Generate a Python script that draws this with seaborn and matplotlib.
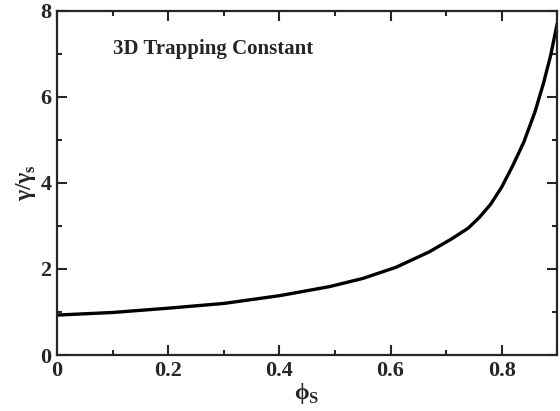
import matplotlib
matplotlib.use("Agg")
import matplotlib.pyplot as plt
import seaborn as sns
import pandas as pd
from matplotlib.ticker import MultipleLocator

# values
phi_s = [0.0, 0.1, 0.2, 0.3, 0.4, 0.49, 0.55, 0.61, 0.67, 0.71, 0.74,
         0.76, 0.78, 0.80, 0.82, 0.84, 0.86, 0.875, 0.888, 0.9]
gamma_ratio = [0.93, 0.99, 1.09, 1.20, 1.38, 1.59, 1.78, 2.04, 2.40, 2.70, 2.95,
               3.20, 3.50, 3.90, 4.40, 4.95, 5.65, 6.30, 6.95, 7.70]
x_ticks = [0, 0.2, 0.4, 0.6, 0.8]
x_tick_labels = ["0", "0.2", "0.4", "0.6", "0.8"]
y_ticks = [0, 2, 4, 6, 8]
title_text = "3D Trapping Constant"

df = pd.DataFrame({"phi": phi_s, "gamma": gamma_ratio})

sns.set_style("ticks")
plt.rcParams["font.family"] = ["Liberation Serif", "DejaVu Serif"]
plt.rcParams["font.weight"] = "bold"
plt.rcParams["mathtext.fontset"] = "custom"
plt.rcParams["mathtext.bf"] = "Liberation Serif:bold"
plt.rcParams["mathtext.rm"] = "Liberation Serif:bold"

fig = plt.figure(figsize=(5.6, 4.11), dpi=100)
ax = fig.add_axes([0.102, 0.136, 0.893, 0.838])

sns.lineplot(data=df, x="phi", y="gamma", color="black", linewidth=2.4, ax=ax)

ax.set_xlim(0, 0.9)
ax.set_ylim(0, 8)
ax.set_xticks(x_ticks)
ax.set_xticklabels(x_tick_labels)
ax.set_yticks(y_ticks)
ax.xaxis.set_minor_locator(MultipleLocator(0.1))
ax.yaxis.set_minor_locator(MultipleLocator(1))
ax.tick_params(which="both", direction="in", top=True, right=True, width=1.5)
ax.tick_params(which="major", length=7, labelsize=16, pad=4)
ax.tick_params(which="minor", length=3.5)
for lab in ax.get_xticklabels() + ax.get_yticklabels():
    lab.set_fontweight("bold")
for sp in ax.spines.values():
    sp.set_linewidth(1.6)

ax.set_xlabel("ϕ$_\\mathrm{S}$", fontsize=17, fontweight="bold", labelpad=0)
ax.set_ylabel("γ/γ$_\\mathrm{s}$", fontsize=17, fontweight="bold", labelpad=2)

ax.text(0.112, 0.89, title_text, transform=ax.transAxes, fontsize=15,
        fontweight="bold", va="center")

fig.savefig("out.png", dpi=100)
